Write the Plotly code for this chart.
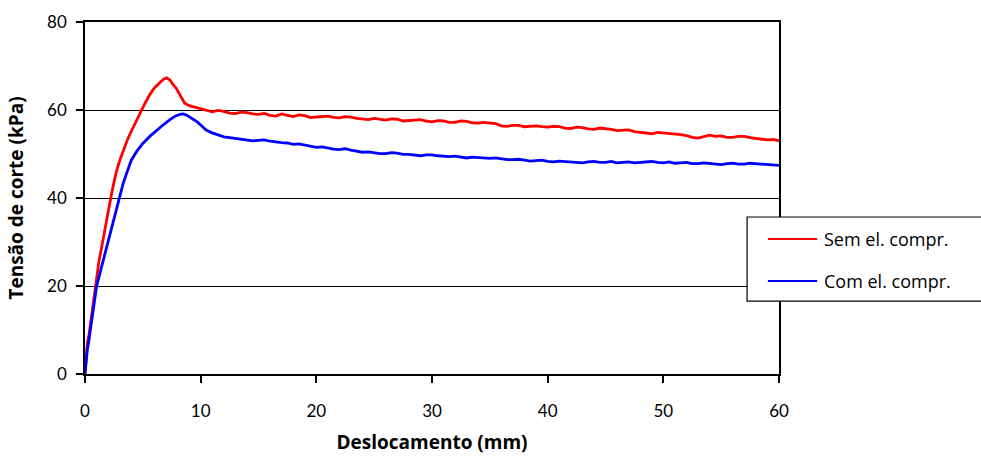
import plotly.graph_objects as go

# Shear stress vs. horizontal displacement, direct shear tests
series_names = ["Sem el. compr.", "Com el. compr."]
series_colors = ["#ff0000", "#0000ff"]

# Initial loading branch (peak region), mm / kPa
rise_x_sem = [0, 0.1, 0.2, 0.35, 0.5, 0.6, 0.8, 1.0, 1.2, 1.45, 1.65, 1.87, 2.1, 2.3, 2.5,
              2.74, 3.0, 3.3, 3.6, 3.9, 4.3, 4.75, 5.2, 5.6, 6.0, 6.5, 6.8, 7.05, 7.35, 7.6,
              7.9, 8.2, 8.6, 9.0, 9.4]
rise_y_sem = [0, 4, 7, 9, 12, 14, 18.5, 22.5, 25.5, 29, 32, 35, 38.5, 41, 43.5,
              46.3, 48.5, 50.9, 52.8, 54.6, 56.8, 59.2, 61.6, 63.5, 65.0, 66.3, 67.0, 67.3, 66.8, 65.8,
              64.9, 63.5, 61.6, 61.0, 60.7]

rise_x_com = [0, 0.1, 0.2, 0.3, 0.5, 0.72, 1.0, 1.3, 1.58, 1.87, 2.16, 2.45, 2.74, 3.0, 3.3,
              3.65, 4.0, 4.5, 5.0, 5.6, 6.2, 6.8, 7.35, 7.8, 8.2, 8.5, 8.8, 9.2, 9.7]
rise_y_com = [0, 3, 5.5, 7, 11, 15.3, 19.9, 23, 25.9, 29, 32, 35, 38, 40.8, 43.3,
              46, 48.6, 50.7, 52.4, 54, 55.4, 56.7, 57.8, 58.6, 59.0, 59.1, 58.8, 58.2, 57.3]

# Residual branch, logged every 0.5 mm from 10 mm to 60 mm
residual_x = [10 + 0.5 * i for i in range(101)]
residual_y_sem = [
    60.3, 59.8, 59.6, 59.9, 59.7, 59.3, 59.2, 59.5, 59.4, 59.1,
    59.0, 59.2, 58.8, 58.6, 59.1, 58.8, 58.5, 58.9, 58.7, 58.3,
    58.4, 58.5, 58.6, 58.3, 58.2, 58.5, 58.4, 58.1, 57.9, 57.8,
    58.1, 57.9, 57.7, 58.0, 57.9, 57.5, 57.6, 57.8, 57.8, 57.5,
    57.3, 57.6, 57.5, 57.2, 57.2, 57.5, 57.4, 57.1, 57.0, 57.2,
    57.1, 56.9, 56.4, 56.3, 56.5, 56.5, 56.2, 56.3, 56.4, 56.2,
    56.1, 56.3, 56.2, 55.9, 55.8, 56.1, 56.0, 55.7, 55.6, 55.9,
    55.8, 55.6, 55.3, 55.4, 55.5, 55.1, 54.9, 54.7, 54.6, 54.9,
    54.8, 54.6, 54.5, 54.4, 54.2, 53.8, 53.6, 54.0, 54.3, 54.0,
    54.1, 53.8, 53.8, 54.0, 54.0, 53.7, 53.5, 53.4, 53.2, 53.3,
    53.0,
]
residual_y_com = [
    56.6, 55.4, 54.8, 54.3, 53.9, 53.7, 53.5, 53.3, 53.2, 53.0,
    53.1, 53.2, 52.9, 52.7, 52.6, 52.5, 52.2, 52.3, 52.0, 51.7,
    51.5, 51.6, 51.3, 51.1, 51.0, 51.2, 50.9, 50.7, 50.4, 50.5,
    50.3, 50.1, 50.1, 50.3, 50.2, 49.9, 49.9, 49.8, 49.6, 49.8,
    49.8, 49.6, 49.5, 49.4, 49.5, 49.3, 49.1, 49.3, 49.2, 49.0,
    49.0, 49.1, 48.9, 48.7, 48.7, 48.8, 48.6, 48.4, 48.5, 48.6,
    48.3, 48.2, 48.4, 48.3, 48.2, 48.0, 48.0, 48.2, 48.3, 48.1,
    48.1, 48.3, 48.0, 48.1, 48.2, 48.0, 48.1, 48.2, 48.3, 48.1,
    48.0, 48.2, 47.9, 48.0, 48.1, 47.8, 47.8, 48.0, 47.9, 47.7,
    47.6, 47.8, 47.9, 47.7, 47.7, 47.9, 47.8, 47.6, 47.6, 47.5,
    47.4,
]

x_ticks = [0, 10, 20, 30, 40, 50, 60]
y_ticks = [0, 20, 40, 60, 80]

TICK_FONT = "Lato"
TEXT_FONT = "Open Sans"

curves = [
    (series_names[0], series_colors[0], rise_x_sem + residual_x, rise_y_sem + residual_y_sem),
    (series_names[1], series_colors[1], rise_x_com + residual_x, rise_y_com + residual_y_com),
]

fig = go.Figure()
for name, color, xs, ys in curves:
    fig.add_trace(go.Scatter(
        x=xs, y=ys, mode="lines", name=name, showlegend=False,
        line=dict(color=color, width=2.8),
    ))

# Key box: sits over the right frame and runs past the figure edge
key_left, key_right = 0.954, 1.32
key_bottom, key_top = 0.207, 0.446
key_rows = [0.3835, 0.264]
sample_x0, sample_x1, label_x = 0.984, 1.055, 1.062

shapes = [dict(type="rect", xref="paper", yref="paper",
               x0=key_left, x1=key_right, y0=key_bottom, y1=key_top,
               line=dict(color="black", width=1.2), fillcolor="white", layer="above")]
annotations = []
for (name, color, _, _), ry in zip(curves, key_rows):
    shapes.append(dict(type="line", xref="paper", yref="paper",
                       x0=sample_x0, x1=sample_x1, y0=ry, y1=ry,
                       line=dict(color=color, width=2), layer="above"))
    annotations.append(dict(xref="paper", yref="paper", x=label_x, y=ry,
                            xanchor="left", yanchor="middle", showarrow=False,
                            text=name, font=dict(family=TEXT_FONT, size=18, color="black")))

fig.update_layout(
    width=981, height=458,
    margin=dict(l=85, r=202, t=22, b=84),
    paper_bgcolor="white", plot_bgcolor="white",
    font=dict(family=TICK_FONT, size=17, color="black"),
    showlegend=False,
    shapes=shapes, annotations=annotations,
    xaxis=dict(
        range=[0, 60], tickvals=x_ticks, ticks="outside", ticklen=7,
        tickcolor="black", tickwidth=1.5, showline=True, linecolor="black",
        linewidth=1.5, mirror=True, showgrid=False, zeroline=False,
        ticklabelstandoff=14, automargin=False,
        title=dict(text="<b>Deslocamento (mm)</b>", font=dict(family=TEXT_FONT, size=19),
                   standoff=16),
    ),
    yaxis=dict(
        range=[0, 80], tickvals=y_ticks, ticks="outside", ticklen=7,
        tickcolor="black", tickwidth=1.5, showline=True, linecolor="black",
        linewidth=1.5, mirror=True, showgrid=True, gridcolor="black",
        gridwidth=1.2, zeroline=False, ticklabelstandoff=6, automargin=False,
        title=dict(text="<b>Tensão de corte (kPa)</b>", font=dict(family=TEXT_FONT, size=19),
                   standoff=18),
    ),
)

fig.write_html("out.html")
